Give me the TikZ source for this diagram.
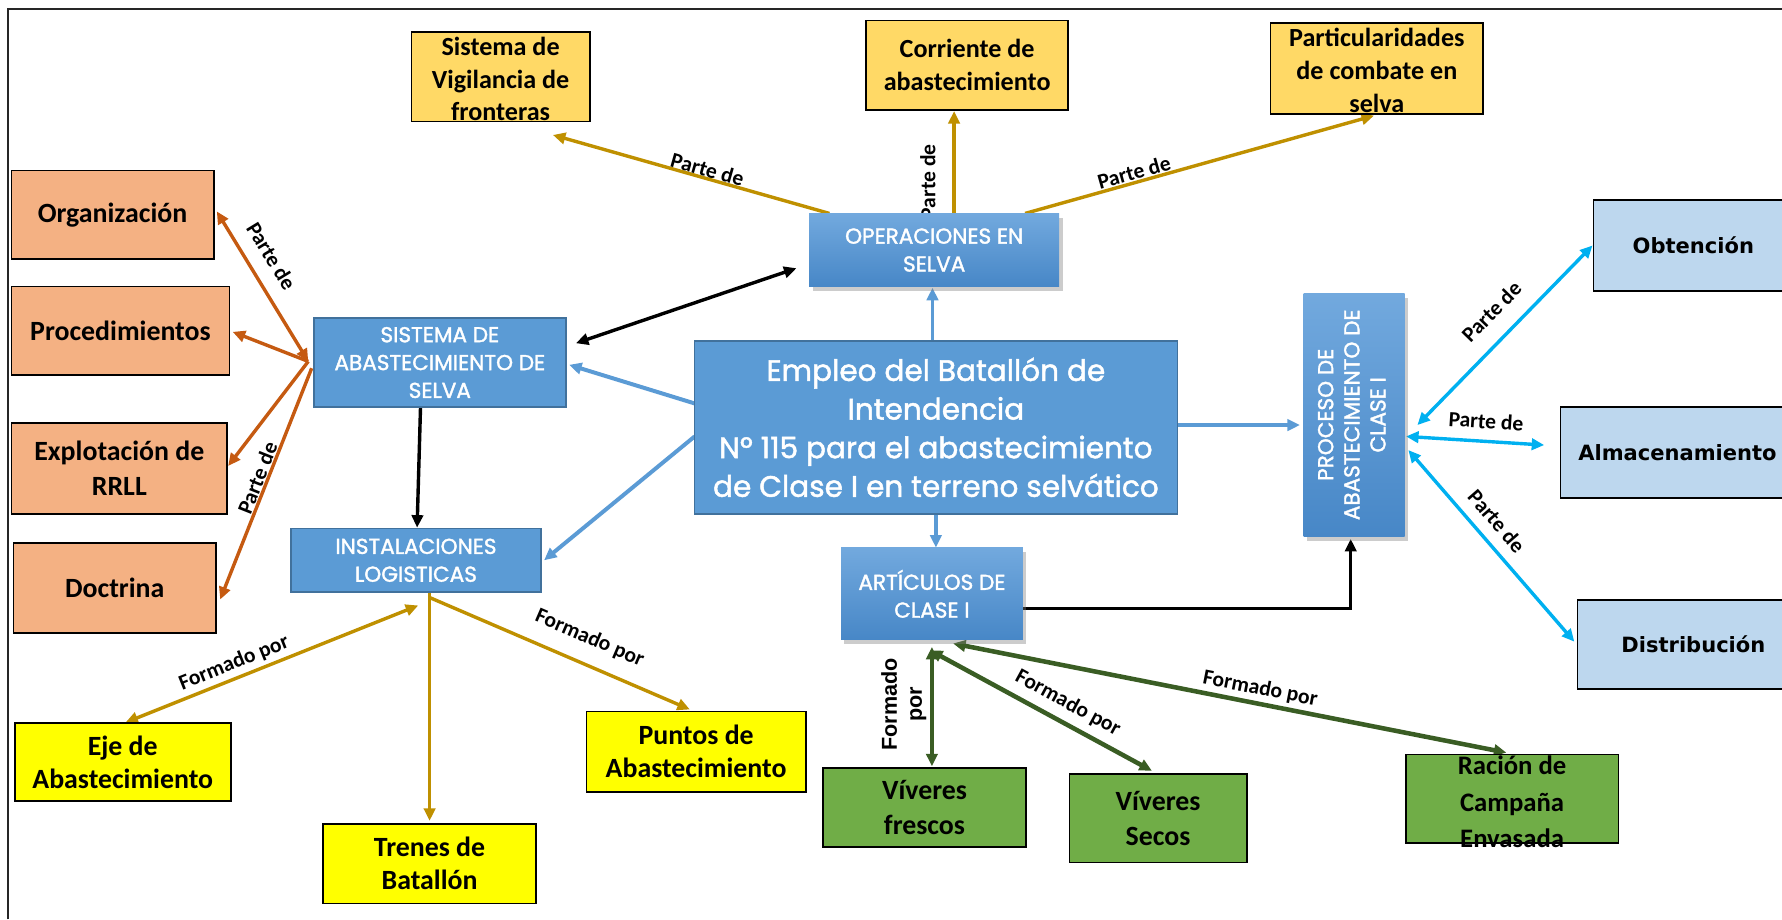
\documentclass[tikz,border=0pt]{standalone}
\usepackage{fontspec}
\usepackage{graphicx}
\setmainfont{Carlito}
\newfontfamily\gothic{Poppins}[FakeBold=1.6]
\newfontfamily\verdana{DejaVu Sans}
\newfontfamily\arial{Liberation Sans}
\usetikzlibrary{arrows.meta,calc,shadows,backgrounds}

\definecolor{oroclaro}{HTML}{FFD966}
\definecolor{salmon}{HTML}{F4B183}
\definecolor{azul}{HTML}{5B9BD5}
\definecolor{azulborde}{HTML}{41719C}
\definecolor{azularriba}{HTML}{72A9DE}
\definecolor{azulabajo}{HTML}{4787C7}
\definecolor{celeste}{HTML}{BDD7EE}
\definecolor{amarillo}{HTML}{FFFF00}
\definecolor{verde}{HTML}{70AD47}
\definecolor{naranja}{HTML}{C55A11}
\definecolor{oro}{HTML}{BF9000}
\definecolor{verdeosc}{HTML}{3A5D24}
\definecolor{cian}{HTML}{00B0F0}

\newcommand\sinalto[1]{\smash{\raisebox{-.45em}{\begin{tabular}[c]{@{}c@{}}#1\end{tabular}}}}

\tikzset{
  boxsize/.style 2 args={minimum width=#1pt, minimum height=#2pt},
  caja/.style={draw, line width=1.5pt, align=center, inner sep=0pt},
  tema/.style={caja, fill=oroclaro, font=\fontsize{23}{29}\selectfont\bfseries},
  parte/.style={caja, fill=salmon, font=\fontsize{24.5}{30}\selectfont\bfseries},
  fase/.style={caja, fill=celeste, font=\verdana\bfseries\fontsize{18.5}{22}\selectfont},
  instal/.style={caja, fill=amarillo, font=\fontsize{24.5}{29}\selectfont\bfseries},
  viveres/.style={caja, fill=verde, font=\fontsize{24.5}{31}\selectfont\bfseries},
  azulplano/.style={fill=azul, draw=azulborde, line width=1.5pt, text=white, align=center,
    inner sep=0pt, font=\gothic\fontsize{19}{24.5}\selectfont},
  azulsombra/.style={top color=azularriba, bottom color=azulabajo, text=white, align=center,
    inner sep=0pt, font=\gothic\fontsize{19}{24.5}\selectfont,
    drop shadow={shadow xshift=3pt, shadow yshift=-4pt, opacity=.4}},
  etiq/.style={font=\fontsize{19}{22}\selectfont\bfseries, sloped, inner sep=0pt},
  etiqv/.style={font=\arial\bfseries\fontsize{19}{22}\selectfont, align=center, sloped, inner sep=0pt},
  cnaranja/.style={draw=naranja, line width=3pt},
  coro/.style={draw=oro, line width=3pt},
  cnegro/.style={draw=black, line width=3pt},
  cazul/.style={draw=azul, line width=3.5pt},
  ccian/.style={draw=cian, line width=3pt},
  cverde/.style={draw=verdeosc, line width=4pt}
}

\begin{document}
\begin{tikzpicture}[x=1pt, y=-1pt, >={Triangle[length=11pt,width=10pt]}]
\useasboundingbox (0,0) rectangle (1568,809);
\clip (0,0) rectangle (1568,809);
\draw[line width=1.7pt, black!85] (7,809) |- (1568,8);

\node[tema, boxsize={157}{79}] (vig) at (440.5,67.5) {\sinalto{Sistema de\\Vigilancia de\\fronteras}};
\node[tema, boxsize={178}{79}] (cor) at (851,57.5) {Corriente de\\abastecimiento};
\node[tema, boxsize={187}{80}] (par) at (1211.5,60) {\sinalto{Particularidades\\de combate en\\selva}};

\node[parte, boxsize={178}{78}] (org) at (99,189) {Organización};
\node[parte, boxsize={192}{78}] (pro) at (106,291) {Procedimientos};
\node[parte, boxsize={190}{80}] (exp) at (105,412) {Explotación de\\RRLL};
\node[parte, boxsize={178}{79}] (doc) at (101,517.5) {Doctrina};

\node[azulsombra, boxsize={220}{64}] (ope) at (822,220) {OPERACIONES EN\\SELVA};
\node[azulplano, boxsize={222}{78}] (sis) at (387,319) {SISTEMA DE\\ABASTECIMIENTO DE\\SELVA};
\node[azulplano, boxsize={425}{152}, font=\gothic\fontsize{26}{34}\selectfont] (emp) at (823.5,376)
  {Empleo del Batallón de\\Intendencia\\Nº 115 para el abastecimiento\\de Clase I en terreno selvático};
\node[azulplano, boxsize={220}{56}] (ins) at (366,493) {INSTALACIONES\\LOGISTICAS};
\node[azulsombra, boxsize={160}{81}] (art) at (820,522.5) {ARTÍCULOS DE\\CLASE I};
\node[azulsombra, boxsize={89}{214}, font=\gothic\fontsize{19}{23}\selectfont] (proc) at (1191.5,365)
  {\rotatebox{90}{\begin{tabular}{@{}c@{}}PROCESO DE\\ABASTECIMIENTO DE\\CLASE I\end{tabular}}};

\node[fase, boxsize={176}{80}] (obt) at (1490,216) {Obtención};
\node[fase, boxsize={206}{80}] (alm) at (1476,398) {Almacenamiento};
\node[fase, boxsize={204}{78}] (dis) at (1490,567) {Distribución};

\node[instal, boxsize={190}{69}] (eje) at (108,670.5) {Eje de\\Abastecimiento};
\node[instal, boxsize={187}{70}] (tre) at (378,760) {Trenes de\\Batallón};
\node[instal, boxsize={193}{71}] (pun) at (612.5,661.5) {Puntos de\\Abastecimiento};

\node[viveres, boxsize={179}{69}] (vfr) at (813.5,710.5) {Víveres\\frescos};
\node[viveres, boxsize={156}{78}] (vse) at (1019,720) {Víveres\\Secos};
\node[viveres, boxsize={187}{78}, font=\fontsize{23.5}{32}\selectfont\bfseries] (rac) at (1330.5,703)
  {\sinalto{Ración de\\Campaña\\Envasada}};

\begin{scope}[on background layer]
\draw[cnaranja, <->] ($(sis.west)+(-4,-1)$) -- node[etiq, pos=.62, above=12.3pt] {Parte de} ($(org.east)+(2,-3)$);
\draw[cnaranja, ->] ($(sis.west)+(-4,-1)$) -- ($(pro.east)+(2,1)$);
\draw[cnaranja, ->] ($(sis.west)+(-4,-1)$) -- ($(exp.east)+(0,-2)$);
\draw[cnaranja, ->] ($(sis.west)+(-1,5)$) -- node[etiq, pos=.49, above=.7pt] {Parte de} ($(doc.east)+(3,10)$);

\draw[coro, ->] ($(ope.north west)+(18,0)$) -- node[etiq, pos=.45, above] {Parte de} ($(vig.south)+(46,11)$);
\draw[coro, ->] ($(ope.north)+(17.5,0)$) -- node[etiq, pos=.31, above=14.8pt] {Parte de} ($(cor.south)+(-11.5,0)$);
\draw[coro, ->] ($(ope.north)+(80,0)$) -- node[etiq, pos=.32, above=.7pt] {Parte de} ($(par.south)+(-2.5,1)$);

\draw[cnegro, <->] ($(sis.east)+(8,-17)$) -- ($(ope.west)+(-11,16)$);
\draw[cnegro, ->] ($(sis.south)+(-17,0)$) -- ($(ins.north)+(1,0)$);
\draw[cnegro, ->] ($(art.east)+(0,13)$) -| ($(proc.south)+(-3,2)$);

\draw[cazul, ->] ($(emp.north)+(-3,0)$) -- ($(ope.south)+(-1.5,1)$);
\draw[cazul, ->] ($(emp.west)+(1,-21)$) -- ($(sis.east)+(2,2)$);
\draw[cazul, ->] ($(emp.west)+(1,8)$) -- ($(ins.east)+(2,0)$);
\draw[cazul, ->] (emp.south) -- ($(art.north)+(3.5,0)$);
\draw[cazul, ->] ($(emp.east)+(0,-2)$) -- ($(proc.west)+(-3,9)$);

\draw[ccian, <->] ($(proc.east)+(11,9)$) -- node[etiq, pos=.53, above=14.8pt] {Parte de} (obt.west);
\draw[ccian, <->] ($(proc.east)+(1,19)$) -- node[etiq, pos=.57, above=9.6pt] {Parte de} ($(alm.west)+(-13.5,-6.4)$);
\draw[ccian, <->] ($(proc.east)+(3,31)$) -- node[etiq, pos=.44, above=9.6pt] {Parte de} ($(dis.west)+(-2,-2.4)$);

\draw[coro, <->] ($(ins.south)+(2,11)$) -- node[etiq, pos=.61, above=3.3pt] {Formado por} ($(eje.north)+(2.4,.5)$);
\draw[coro, ->] ($(ins.south)+(12,0)$) -- ($(tre.north)+(0,-2)$);
\draw[coro, ->] ($(ins.south)+(12,4)$) -- node[etiq, pos=.576, above=13pt] {Formado por} ($(pun.north)+(-5.5,-1)$);

\draw[cverde, <->] ($(vfr.north)+(6.5,-1)$) -- node[etiqv, pos=.52, above=3pt] {Formado\\por} ($(art.south)+(0,6)$);
\draw[cverde, <->] ($(art.south)+(-1.7,9)$) -- node[etiq, pos=.58, above=6.8pt] {Formado por} ($(vse.north)+(-5.4,-2)$);
\draw[cverde, <->] ($(art.south)+(18.6,3)$) -- node[etiq, pos=.55, above=2.9pt] {Formado por} ($(rac.north)+(-5,-1)$);
\end{scope}
\end{tikzpicture}
\end{document}
